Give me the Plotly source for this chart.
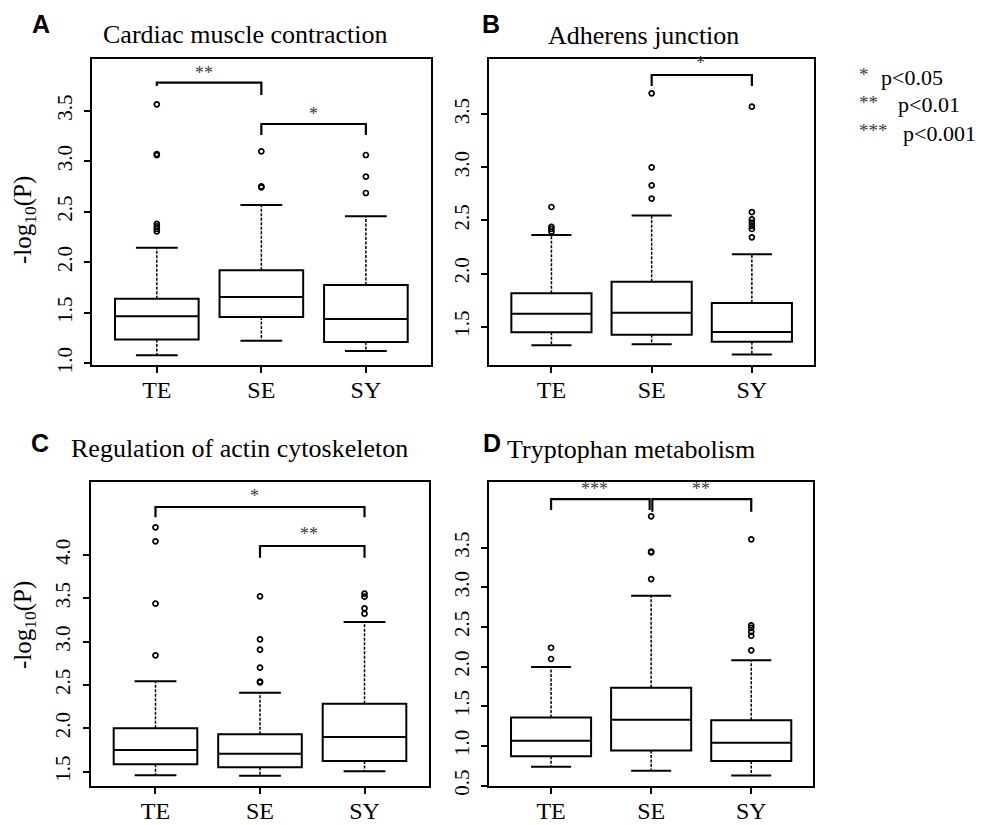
import plotly.graph_objects as go

# ---------------- data ----------------
categories = ["TE", "SE", "SY"]
positions = [1, 2, 3]

titles = ["Cardiac muscle contraction", "Adherens junction",
          "Regulation of actin cytoskeleton", "Tryptophan metabolism"]
letters = ["A", "B", "C", "D"]

A_q1 = [1.237, 1.458, 1.211]
A_med = [1.465, 1.656, 1.439]
A_q3 = [1.640, 1.920, 1.775]
A_lo = [1.079, 1.224, 1.122]
A_hi = [2.144, 2.567, 2.454]
A_out = [[3.563, 3.07, 3.06, 2.38, 2.355, 2.33, 2.305],
         [3.098, 2.75, 2.74],
         [3.061, 2.847, 2.685]]
A_yticks = [1.0, 1.5, 2.0, 2.5, 3.0, 3.5]
A_sig = [(1, 2, 3.777, 3.745, 3.655, 1.456, 3.876, "**"),
         (2, 3, 3.368, 3.26, 3.26, 2.5, 3.47, "*")]

B_q1 = [1.447, 1.425, 1.359]
B_med = [1.622, 1.632, 1.450]
B_q3 = [1.814, 1.924, 1.723]
B_lo = [1.324, 1.334, 1.239]
B_hi = [2.363, 2.546, 2.181]
B_out = [[2.627, 2.44, 2.42, 2.395],
         [3.698, 3.001, 2.831, 2.706],
         [3.572, 2.578, 2.51, 2.48, 2.45, 2.42, 2.341]]
B_yticks = [1.5, 2.0, 2.5, 3.0, 3.5]
B_sig = [(2, 3, 3.870, 3.767, 3.767, 2.49, 3.98, "*")]

C_q1 = [1.585, 1.550, 1.623]
C_med = [1.750, 1.708, 1.900]
C_q3 = [2.000, 1.931, 2.285]
C_lo = [1.458, 1.454, 1.504]
C_hi = [2.542, 2.412, 3.227]
C_out = [[4.319, 4.158, 3.438, 2.842],
         [3.523, 3.027, 2.908, 2.700, 2.540, 2.530],
         [3.554, 3.519, 3.385, 3.323]]
C_yticks = [1.5, 2.0, 2.5, 3.0, 3.5, 4.0]
C_sig = [(1, 3, 4.554, 4.435, 4.435, 1.945, 4.685, "*"),
         (2, 3, 4.104, 3.969, 3.969, 2.47, 4.238, "**")]

D_q1 = [0.870, 0.945, 0.811]
D_med = [1.067, 1.332, 1.042]
D_q3 = [1.361, 1.735, 1.324]
D_lo = [0.739, 0.689, 0.630]
D_hi = [1.996, 2.895, 2.080]
D_out = [[2.239, 2.097],
         [3.895, 3.450, 3.440, 3.105],
         [3.605, 2.520, 2.490, 2.440, 2.390, 2.206]]
D_yticks = [0.5, 1.0, 1.5, 2.0, 2.5, 3.0, 3.5]
D_sig = [(1, 1.985, 4.113, 3.975, 3.975, 1.438, 4.235, "***"),
         (2.012, 3, 4.113, 3.954, 3.954, 2.5, 4.235, "**")]

legend_stars = ["*", "**", "***"]
legend_texts = ["p<0.05", "p<0.01", "p<0.001"]

# ---------------- layout geometry (pixels in a 985x825 canvas) ----------------
W, H = 985, 825
panels = [
    dict(q1=A_q1, med=A_med, q3=A_q3, lo=A_lo, hi=A_hi, out=A_out, yt=A_yticks, sig=A_sig,
         px=(92, 430.7), py=(59.3, 365), yr=(0.9835, 4.008)),
    dict(q1=B_q1, med=B_med, q3=B_q3, lo=B_lo, hi=B_hi, out=B_out, yt=B_yticks, sig=B_sig,
         px=(489.3, 814), py=(59.3, 365), yr=(1.139, 4.018)),
    dict(q1=C_q1, med=C_med, q3=C_q3, lo=C_lo, hi=C_hi, out=C_out, yt=C_yticks, sig=C_sig,
         px=(90.7, 429.3), py=(481.7, 785.7), yr=(1.338, 4.846)),
    dict(q1=D_q1, med=D_med, q3=D_q3, lo=D_lo, hi=D_hi, out=D_out, yt=D_yticks, sig=D_sig,
         px=(489, 813.3), py=(482, 785.7), yr=(0.5, 4.328)),
]
title_pos = [(245, 34), (643, 35), (239, 448), (630.5, 450)]
letter_pos = [(41, 24), (491, 24), (40, 443), (492, 443)]
ylab_pos = [(25, 220), (24, 625)]

SERIF = "Liberation Serif"
SANS = "Liberation Sans"
BOXW = 0.8
STAPLE = 0.2
STAR_COLOR = "#3a3a3a"

fig = go.Figure()
annotations = []


def pa(x, y):
    return dict(x=x / W, y=1 - y / H, xref="paper", yref="paper")


for i, p in enumerate(panels):
    ax = "" if i == 0 else str(i + 1)
    xref, yref = "x" + ax, "y" + ax

    # whiskers (dashed)
    wx, wy = [], []
    for xi, a, b, c, d in zip(positions, p["q1"], p["lo"], p["q3"], p["hi"]):
        wx += [xi, xi, None, xi, xi, None]
        wy += [a, b, None, c, d, None]
    fig.add_trace(go.Scatter(x=wx, y=wy, mode="lines", xaxis=xref, yaxis=yref,
                             line=dict(color="black", width=1.5, dash="3px,1.5px"),
                             hoverinfo="skip", showlegend=False))
    # staples
    sx, sy = [], []
    for xi, b, d in zip(positions, p["lo"], p["hi"]):
        sx += [xi - STAPLE, xi + STAPLE, None, xi - STAPLE, xi + STAPLE, None]
        sy += [b, b, None, d, d, None]
    fig.add_trace(go.Scatter(x=sx, y=sy, mode="lines", xaxis=xref, yaxis=yref,
                             line=dict(color="black", width=2),
                             hoverinfo="skip", showlegend=False))
    # boxes
    fig.add_trace(go.Box(x=positions, q1=p["q1"], median=p["med"], q3=p["q3"],
                         lowerfence=p["q1"], upperfence=p["q3"], width=BOXW,
                         whiskerwidth=0, boxpoints=False,
                         fillcolor="white", line=dict(color="black", width=2),
                         xaxis=xref, yaxis=yref, showlegend=False, hoverinfo="skip"))
    # outliers
    ox, oy = [], []
    for xi, vals in zip(positions, p["out"]):
        ox += [xi] * len(vals)
        oy += vals
    fig.add_trace(go.Scatter(x=ox, y=oy, mode="markers", xaxis=xref, yaxis=yref,
                             marker=dict(symbol="circle-open", size=5, color="black",
                                         line=dict(width=1.7, color="black")),
                             hoverinfo="skip", showlegend=False))
    # significance brackets
    for (x1, x2, ytop, yl1, yl2, lx, ly, lab) in p["sig"]:
        fig.add_trace(go.Scatter(x=[x1, x1, x2, x2], y=[yl1, ytop, ytop, yl2], mode="lines",
                                 xaxis=xref, yaxis=yref,
                                 line=dict(color="black", width=2.2),
                                 hoverinfo="skip", showlegend=False))
        annotations.append(dict(x=lx, y=ly, xref=xref, yref=yref, text=lab,
                                xanchor="center", yanchor="middle",
                                showarrow=False, font=dict(family=SERIF, size=18, color=STAR_COLOR)))

    x0, x1p = p["px"]
    y0, y1p = p["py"]
    fig.update_layout({
        "xaxis" + ax: dict(domain=[x0 / W, x1p / W], range=[0.38, 3.62], anchor=yref,
                           tickvals=positions, ticktext=categories,
                           tickfont=dict(family=SERIF, size=24, color="black"),
                           ticks="outside", ticklen=6, tickwidth=1.5, tickcolor="black",
                           ticklabelstandoff=-4,
                           showline=True, mirror=True, linecolor="black", linewidth=2,
                           showgrid=False, zeroline=False, fixedrange=True),
        "yaxis" + ax: dict(domain=[1 - y1p / H, 1 - y0 / H], range=list(p["yr"]), anchor=xref,
                           tickvals=p["yt"], ticktext=["%.1f" % v for v in p["yt"]],
                           tickangle=-90, ticklabelstandoff=4,
                           tickfont=dict(family=SERIF, size=21, color="black"),
                           ticks="outside", ticklen=6, tickwidth=1.5, tickcolor="black",
                           showline=True, mirror=True, linecolor="black", linewidth=2,
                           showgrid=False, zeroline=False, fixedrange=True),
    })

    tx, ty = title_pos[i]
    annotations.append(dict(**pa(tx, ty), text=titles[i], showarrow=False,
                            xanchor="center", yanchor="middle",
                            font=dict(family=SERIF, size=26, color="black")))
    lx_, ly_ = letter_pos[i]
    annotations.append(dict(**pa(lx_, ly_), text="<b>%s</b>" % letters[i], showarrow=False,
                            xanchor="center", yanchor="middle",
                            font=dict(family=SANS, size=25, color="black")))

for (lx, ly) in ylab_pos:
    annotations.append(dict(**pa(lx, ly), text="-log<sub>10</sub>(P)", textangle=-90,
                            showarrow=False, xanchor="center", yanchor="middle",
                            font=dict(family=SERIF, size=25, color="black")))

legend_y = [77, 105, 133]
legend_tx = [879, 896, 901]
for s, t, yy, tx in zip(legend_stars, legend_texts, legend_y, legend_tx):
    annotations.append(dict(**pa(857, yy - 3), xanchor="left", yanchor="middle", text=s,
                            showarrow=False, font=dict(family=SERIF, size=19, color=STAR_COLOR)))
    annotations.append(dict(**pa(tx, yy), xanchor="left", yanchor="middle", text=t,
                            showarrow=False, font=dict(family=SERIF, size=22, color="black")))

fig.update_layout(width=W, height=H,
                  margin=dict(l=0, r=0, t=0, b=0, pad=0, autoexpand=False),
                  paper_bgcolor="white", plot_bgcolor="white",
                  showlegend=False, boxmode="overlay", annotations=annotations)

fig.write_html("out.html", config={"displayModeBar": False},
               post_script="document.body.style.margin='0';document.body.style.overflow='hidden';")
